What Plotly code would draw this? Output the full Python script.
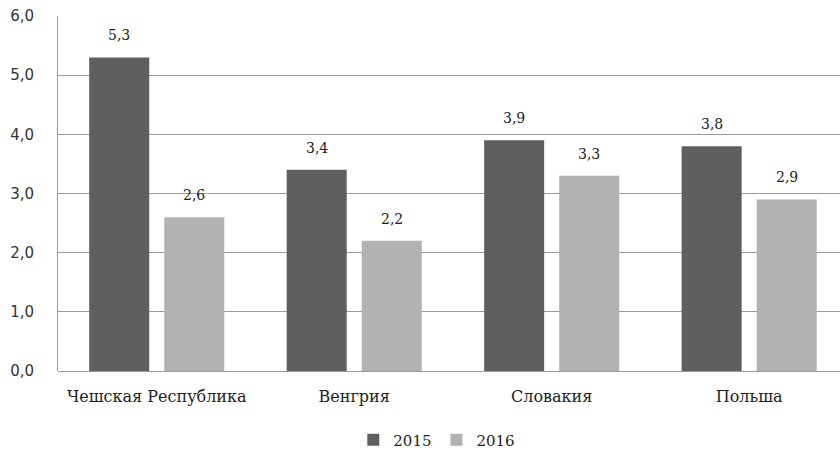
import plotly.graph_objects as go

categories = ["Чешская Республика", "Венгрия", "Словакия", "Польша"]
values_2015 = [5.3, 3.4, 3.9, 3.8]
values_2016 = [2.6, 2.2, 3.3, 2.9]
series_names = ["2015", "2016"]
y_ticks = [0, 1, 2, 3, 4, 5, 6]
y_tick_labels = ["0,0", "1,0", "2,0", "3,0", "4,0", "5,0", "6,0"]

colors = ["#5f5f5f", "#b2b2b2"]
SERIF = "'DejaVu Serif', 'Liberation Serif', serif"

def fmt(v):
    return f"{v:.1f}".replace(".", ",")

fig = go.Figure()
for name, vals, col in zip(series_names, [values_2015, values_2016], colors):
    fig.add_trace(go.Bar(
        x=categories, y=vals, name=name,
        marker=dict(color=col, line=dict(width=0)),
        hoverinfo="skip",
    ))

annotations = []
for k, vals in enumerate([values_2015, values_2016]):
    off = -0.19 if k == 0 else 0.19
    for i, v in enumerate(vals):
        annotations.append(dict(
            x=i + off, y=v, xref="x", yref="y", text=fmt(v),
            showarrow=False, yanchor="bottom", yshift=12,
            font=dict(family=SERIF, size=14, color="#222"),
        ))

fig.update_layout(
    width=840, height=449,
    margin=dict(l=58, r=0, t=16, b=78),
    paper_bgcolor="white", plot_bgcolor="white",
    barmode="group", bargap=0.24, bargroupgap=0.2,
    showlegend=True,
    legend=dict(
        orientation="h", xref="container", yref="container",
        x=0.52, xanchor="center", y=0.02, yanchor="middle",
        font=dict(family=SERIF, size=15, color="#222"),
        itemwidth=30, traceorder="normal",
    ),
    annotations=annotations,
    xaxis=dict(
        range=[-0.5, 3.46], showgrid=False, showline=False, zeroline=False,
        ticks="", ticklabelstandoff=14,
        tickfont=dict(family=SERIF, size=16, color="#222"),
        fixedrange=True,
    ),
    yaxis=dict(
        range=[0, 6], tickvals=y_ticks, ticktext=y_tick_labels,
        showgrid=True, gridcolor="#9a9a9a", gridwidth=1,
        showline=True, linecolor="#9a9a9a", linewidth=1,
        zeroline=True, zerolinecolor="#9a9a9a", zerolinewidth=1,
        ticks="", ticklabelstandoff=20,
        tickfont=dict(family="DejaVu Sans", size=15, color="#333"),
        fixedrange=True,
    ),
)

fig.write_html(
    "out.html",
    config={"displayModeBar": False, "staticPlot": True},
    post_script="document.body.style.margin='0';document.body.style.padding='0';",
)
